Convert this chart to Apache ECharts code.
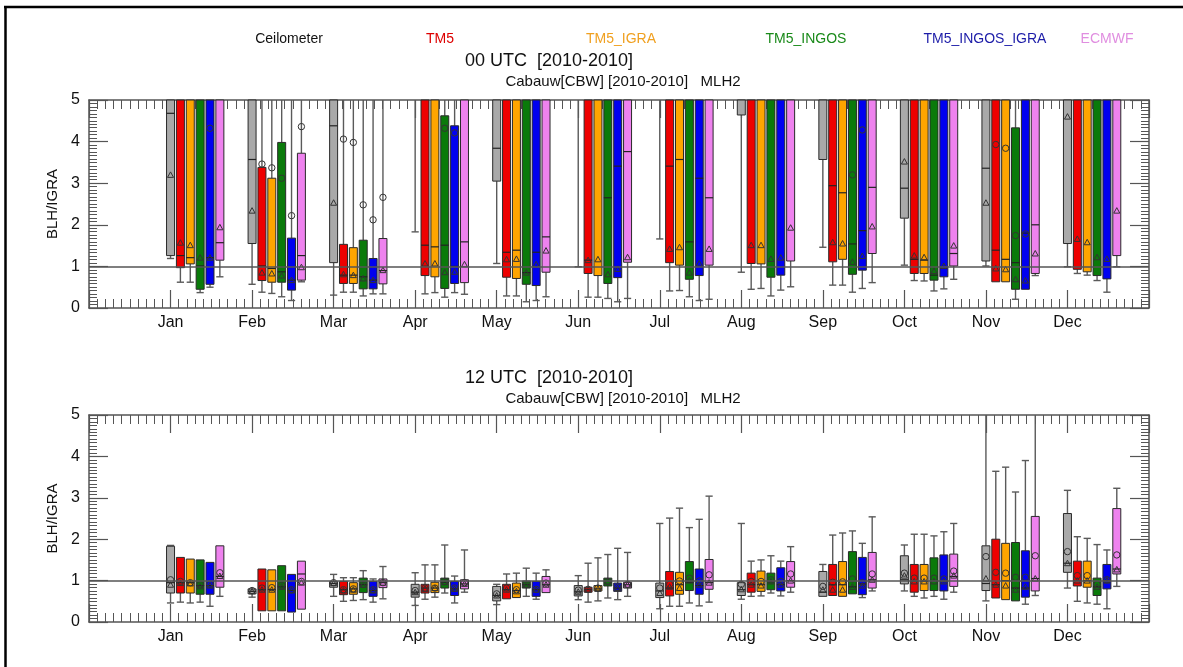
<!DOCTYPE html>
<html>
<head>
<meta charset="utf-8">
<script src="https://cdn.jsdelivr.net/npm/echarts/dist/echarts.min.js"></script>
<style>html,body{margin:0;padding:0;background:#fff}#c{width:1183px;height:667px}</style>
</head>
<body>
<div id="c"></div>
<script>
const months = ['Jan','Feb','Mar','Apr','May','Jun','Jul','Aug','Sep','Oct','Nov','Dec'];
const seriesNames = ['Ceilometer','TM5','TM5_IGRA','TM5_INGOS','TM5_INGOS_IGRA','ECMWF'];
const boxColors = ['#a9a9a9','#ee0000','#ffa500','#0a7a0a','#0000f0','#ee82ee'];
const legendColors = ['#111111','#dd0000','#f0a020','#1a8a1a','#1c1ca8','#e08ee0'];
const panelTitles = ['00 UTC  [2010-2010]','12 UTC  [2010-2010]'];
const subTitle = 'Cabauw[CBW] [2010-2010]   MLH2';
const yTicks = [0,1,2,3,4,5];
const refValue = 1;

// each row (one per month): [whiskerLow, q1, median, q3, whiskerHigh, mean(triangle), circle]
// values above 5 run off the top of the plot
const utc00_Ceilometer = [
 [1.19,1.26,4.68,6,6,3.2,null],[0.57,1.55,3.57,6,6,2.34,null],[0.31,1.09,4.38,6,6,2.53,null],
 [1.83,6,6,6,6,null,null],[1.07,3.05,3.84,6,6,null,null],[0.99,6,6,6,6,null,null],
 [1.66,6,6,6,6,null,null],[0.86,4.64,6,6,6,null,null],[1.46,3.57,6,6,6,null,null],
 [1.03,2.16,2.88,6,6,3.52,null],[1.01,1.13,3.36,6,6,2.53,null],[0.99,1.55,6,6,6,4.6,null]];
const utc00_TM5 = [
 [0.62,0.97,1.26,6,6,1.57,null],[0.38,0.66,1.01,3.38,6,0.85,3.46],[0.38,0.59,0.79,1.53,6,0.81,4.06],
 [0.34,0.78,1.51,6,6,1.07,null],[0.29,0.74,1.34,6,6,1.17,null],[0.26,0.83,1.15,6,6,1.15,null],
 [0.41,1.09,3.41,6,6,1.42,null],[0.45,1.07,6,6,6,1.51,null],[0.55,1.11,2.94,6,6,1.58,null],
 [0.66,0.83,1.17,6,6,1.26,null],[0.63,0.63,1.39,6,6,0.95,3.93],[0.83,0.93,6,6,6,1.66,null]];
const utc00_TM5_IGRA = [
 [0.62,1.06,1.21,6,6,1.51,null],[0.35,0.62,0.95,3.12,6,0.83,3.37],[0.38,0.59,0.79,1.45,6,0.79,3.98],
 [0.37,0.75,1.47,6,6,1.07,null],[0.29,0.71,1.39,6,6,1.18,null],[0.26,0.78,6,6,6,1.17,null],
 [0.42,1.03,3.57,6,6,1.46,null],[0.47,1.06,6,6,6,1.51,null],[0.55,1.17,2.77,6,6,1.55,null],
 [0.65,0.83,1.15,6,6,1.22,null],[0.63,0.63,1.17,6,6,0.93,3.84],[0.79,0.87,6,6,6,1.58,null]];
const utc00_TM5_INGOS = [
 [0.37,0.45,1.01,6,6,1.21,null],[0.27,0.62,0.87,3.98,6,0.78,3.12],[0.29,0.46,0.75,1.63,6,0.71,2.48],
 [0.26,0.47,1.51,4.62,6,0.86,4.32],[0.15,0.57,0.85,6,6,0.85,null],[0.23,0.59,2.65,6,6,0.81,null],
 [0.27,0.69,1.59,6,6,0.85,null],[0.29,0.74,6,6,6,1.18,null],[0.38,0.81,1.54,6,6,1.11,3.2],
 [0.41,0.67,0.79,6,6,0.89,null],[0.21,0.45,1.09,4.33,6,0.69,1.74],[0.66,0.78,6,6,6,1.22,null]];
const utc00_TM5_INGOS_IGRA = [
 [0.5,0.57,1.21,6,6,1.21,4.32],[0.18,0.43,0.67,1.68,6,0.67,2.22],[0.34,0.46,0.67,1.19,6,0.67,2.12],
 [0.37,0.59,1.0,4.38,6,0.87,4.21],[0.18,0.54,1.34,6,6,1.05,null],[0.15,0.73,3.41,6,6,0.94,null],
 [0.18,0.78,3.12,6,6,1.07,null],[0.43,0.79,6,6,6,1.21,null],[0.47,0.91,1.86,6,6,1.25,4.28],
 [0.46,0.75,6,6,6,1.01,null],[0.45,0.45,1.8,6,6,0.66,1.78],[0.38,0.7,6,6,6,1.18,null]];
const utc00_ECMWF = [
 [0.75,1.15,1.57,6,6,1.94,null],[0.63,0.67,1.26,3.72,6,0.98,4.36],[0.34,0.58,0.9,1.67,6,0.91,2.66],
 [0.33,0.61,1.59,6,6,1.05,null],[0.27,0.86,1.71,6,6,1.38,null],[0.23,1.1,3.76,6,6,1.22,null],
 [0.21,1.03,2.65,6,6,1.42,null],[0.51,1.13,6,6,6,1.93,null],[0.61,1.31,2.9,6,6,1.96,null],
 [0.69,1.01,1.31,6,6,1.5,null],[0.78,0.83,2.0,6,6,1.31,null],[0.99,1.26,6,6,6,2.34,null]];

const utc12_Ceilometer = [
 [0.46,0.7,0.95,1.83,1.85,0.9,1.02],[0.6,0.68,0.74,0.8,0.8,0.74,0.76],[0.62,0.84,0.93,0.98,1.15,0.94,0.95],
 [0.4,0.6,0.72,0.91,1.19,0.72,0.76],[0.42,0.51,0.64,0.86,0.91,0.64,0.68],[0.54,0.63,0.73,0.88,1.12,0.73,0.77],
 [0.32,0.59,0.75,0.94,2.38,0.7,0.82],[0.55,0.64,0.78,0.95,2.38,0.79,0.91],[0.62,0.62,0.72,1.22,1.39,0.78,0.86],
 [0.75,0.92,1.02,1.6,1.86,1.12,1.18],[0.51,0.76,0.93,1.84,6,1.05,1.58],[0.82,1.2,1.42,2.62,3.18,1.42,1.7]];
const utc12_TM5 = [
 [0.48,0.7,0.95,1.56,1.56,0.94,0.98],[0.27,0.27,0.78,1.28,1.28,0.78,0.82],[0.5,0.66,0.78,0.98,1.07,0.76,0.78],
 [0.55,0.7,0.82,0.91,1.38,0.8,0.82],[0.56,0.56,0.78,0.91,1.16,0.78,0.82],[0.48,0.72,0.78,0.84,1.42,0.78,0.79],
 [0.38,0.63,0.82,1.22,2.51,0.85,0.91],[0.62,0.72,0.9,1.18,1.47,0.9,0.98],[0.64,0.64,0.9,1.39,2.1,0.78,0.96],
 [0.62,0.72,0.98,1.39,2.12,0.98,1.06],[0.58,0.58,0.9,2.0,3.64,0.9,1.2],[0.5,0.87,1.0,1.47,2.06,1.0,1.12]];
const utc12_TM5_IGRA = [
 [0.46,0.7,0.95,1.52,1.52,0.93,0.95],[0.27,0.27,0.78,1.26,1.26,0.78,0.83],[0.52,0.67,0.8,0.95,1.07,0.78,0.8],
 [0.6,0.71,0.82,0.96,1.38,0.82,0.82],[0.59,0.59,0.76,0.94,1.18,0.74,0.78],[0.51,0.75,0.8,0.88,1.55,0.8,0.82],
 [0.38,0.67,0.9,1.2,2.75,0.82,0.99],[0.63,0.74,0.9,1.23,1.5,0.88,0.98],[0.62,0.62,0.9,1.46,2.15,0.78,0.97],
 [0.58,0.76,0.98,1.39,2.12,0.98,1.06],[0.54,0.54,1.0,1.9,3.74,0.88,1.18],[0.46,0.84,1.0,1.47,2.02,1.0,1.12]];
const utc12_TM5_INGOS = [
 [0.48,0.67,0.88,1.5,1.5,0.86,0.9],[0.27,0.27,0.85,1.36,1.36,0.85,0.88],[0.54,0.71,0.9,1.06,1.24,0.9,0.91],
 [0.7,0.82,0.96,1.06,1.86,0.96,0.98],[0.62,0.82,0.9,0.99,1.3,0.9,0.91],[0.58,0.87,0.98,1.06,1.63,0.98,0.98],
 [0.46,0.76,0.96,1.46,2.28,1.0,1.06],[0.7,0.78,0.98,1.18,1.6,0.98,1.02],[0.68,0.68,0.85,1.7,2.2,0.85,1.04],
 [0.62,0.76,0.98,1.55,2.08,0.98,1.06],[0.51,0.51,0.82,1.92,3.14,0.78,1.08],[0.43,0.64,0.85,1.06,1.87,0.85,0.91]];
const utc12_TM5_INGOS_IGRA = [
 [0.38,0.67,0.88,1.44,1.44,0.88,0.91],[0.24,0.24,0.76,1.15,1.15,0.76,0.78],[0.48,0.62,0.76,0.98,1.04,0.76,0.78],
 [0.46,0.64,0.8,0.98,1.11,0.8,0.82],[0.55,0.62,0.78,0.98,1.18,0.78,0.79],[0.54,0.74,0.82,0.94,1.78,0.82,0.84],
 [0.39,0.67,0.88,1.28,2.48,0.9,0.99],[0.63,0.75,0.9,1.31,1.47,0.9,0.98],[0.59,0.66,0.92,1.56,1.9,0.88,0.95],
 [0.55,0.75,0.98,1.62,2.18,0.98,1.04],[0.43,0.6,0.82,1.72,3.9,0.85,1.08],[0.32,0.8,1.0,1.39,1.74,1.0,1.02]];
const utc12_ECMWF = [
 [0.62,0.84,1.1,1.84,1.84,1.11,1.19],[0.31,0.31,1.16,1.47,1.47,0.95,0.98],[0.56,0.83,0.95,1.04,1.34,0.95,0.95],
 [0.72,0.8,0.92,1.02,1.74,0.92,0.95],[0.71,0.71,0.9,1.1,1.26,0.9,0.94],[0.62,0.82,0.9,0.96,1.68,0.9,0.91],
 [0.48,0.79,0.95,1.51,3.04,0.95,1.14],[0.72,0.84,1.0,1.46,1.82,1.0,1.16],[0.75,0.82,1.02,1.68,2.54,1.02,1.16],
 [0.72,0.86,1.1,1.64,2.38,1.12,1.23],[0.64,0.75,1.05,2.55,6,1.05,1.6],[0.86,1.16,1.28,2.74,3.23,1.27,1.62]];

const panels = [
  [utc00_Ceilometer, utc00_TM5, utc00_TM5_IGRA, utc00_TM5_INGOS, utc00_TM5_INGOS_IGRA, utc00_ECMWF],
  [utc12_Ceilometer, utc12_TM5, utc12_TM5_IGRA, utc12_TM5_INGOS, utc12_TM5_INGOS_IGRA, utc12_ECMWF]
];

const FONT = "'Liberation Sans', Arial, Helvetica, sans-serif";
const AX = '#555555';
const STEP = 0.121;   // horizontal offset between models inside a month (in months)
const BOXW = 0.098;   // box width (in months)
const YMAX = 5;

function xAxisCfg(gridIndex, position, showLabels) {
  return {
    type: 'value', gridIndex: gridIndex, position: position, min: 0, max: 13, interval: 1,
    axisLine: {show: true, onZero: false, lineStyle: {color: AX, width: 1.5}},
    axisTick: {show: true, inside: true, length: 18, lineStyle: {color: AX, width: 1.2}},
    minorTick: {show: true, splitNumber: 10, length: 9, lineStyle: {color: AX, width: 1}},
    axisLabel: {show: showLabels, color: '#111', fontSize: 16, fontFamily: FONT, margin: 7,
      formatter: function (v) { return (v >= 1 && v <= 12 && Math.round(v) === v) ? months[v - 1] : ''; }},
    splitLine: {show: false}, minorSplitLine: {show: false}
  };
}
function yAxisCfg(gridIndex, position, showLabels) {
  const c = {
    type: 'value', gridIndex: gridIndex, position: position, min: yTicks[0], max: yTicks[yTicks.length - 1], interval: 1,
    axisLine: {show: true, onZero: false, lineStyle: {color: AX, width: 1.5}},
    axisTick: {show: true, inside: true, length: 19, lineStyle: {color: AX, width: 1.2}},
    minorTick: {show: true, splitNumber: 12, length: 8, lineStyle: {color: AX, width: 1}},
    axisLabel: {show: showLabels, color: '#111', fontSize: 16, fontFamily: FONT, margin: 9},
    splitLine: {show: false}, minorSplitLine: {show: false}
  };
  if (showLabels) {
    c.name = 'BLH/IGRA'; c.nameLocation = 'middle'; c.nameGap = 29;
    c.nameTextStyle = {color: '#111', fontSize: 15, fontFamily: FONT};
  }
  return c;
}

function makeRender(stats, color) {
  return function (params, api) {
    const d = stats[params.dataIndex];
    const xv = api.value(0);
    const Y = function (v) { return api.coord([xv, Math.min(v, YMAX)])[1]; };
    const px = api.coord([xv, 0])[0];
    const hw = api.size([BOXW, 0])[0] / 2;
    const capW = hw * 0.9;
    const lo = d[0], q1 = d[1], med = d[2], q3 = d[3], hi = d[4], mean = d[5], circ = d[6];
    const ws = {stroke: '#5a5a5a', lineWidth: 1.4};
    const ch = [];
    if (lo < q1 && lo < YMAX) {
      ch.push({type: 'line', shape: {x1: px, y1: Y(lo), x2: px, y2: Y(q1)}, style: ws});
      ch.push({type: 'line', shape: {x1: px - capW, y1: Y(lo), x2: px + capW, y2: Y(lo)}, style: ws});
    }
    if (hi > q3 && q3 < YMAX) {
      ch.push({type: 'line', shape: {x1: px, y1: Y(q3), x2: px, y2: Y(hi)}, style: ws});
      if (hi <= YMAX) ch.push({type: 'line', shape: {x1: px - capW, y1: Y(hi), x2: px + capW, y2: Y(hi)}, style: ws});
    }
    if (q1 < YMAX) {
      const yt = Y(q3), yb = Y(q1);
      ch.push({type: 'rect', shape: {x: px - hw, y: yt, width: 2 * hw, height: yb - yt},
        style: {fill: color, stroke: '#2a2a2a', lineWidth: 1}});
    }
    if (med != null && med < YMAX && q1 < YMAX) {
      ch.push({type: 'line', shape: {x1: px - hw, y1: Y(med), x2: px + hw, y2: Y(med)},
        style: {stroke: '#222', lineWidth: 1.2}});
    }
    if (mean != null && mean < YMAX) {
      const ty = Y(mean);
      ch.push({type: 'polygon', shape: {points: [[px - 3, ty + 2.5], [px + 3, ty + 2.5], [px, ty - 3]]},
        style: {fill: 'none', stroke: '#333', lineWidth: 1}});
    }
    if (circ != null && circ < YMAX) {
      ch.push({type: 'circle', shape: {cx: px, cy: Y(circ), r: 3.2},
        style: {fill: 'none', stroke: '#333', lineWidth: 1}});
    }
    return {type: 'group', children: ch};
  };
}

const grids = [
  {left: 89, top: 100, width: 1060, height: 208},
  {left: 89, top: 415, width: 1060, height: 207}
];
const xAxes = [xAxisCfg(0, 'bottom', true), xAxisCfg(0, 'top', false), xAxisCfg(1, 'bottom', true), xAxisCfg(1, 'top', false)];
const yAxes = [yAxisCfg(0, 'left', true), yAxisCfg(0, 'right', false), yAxisCfg(1, 'left', true), yAxisCfg(1, 'right', false)];

const series = [];
panels.forEach(function (models, p) {
  models.forEach(function (stats, k) {
    const s = {
      type: 'custom', name: seriesNames[k], xAxisIndex: p * 2, yAxisIndex: p * 2,
      renderItem: makeRender(stats, boxColors[k]),
      encode: {x: 0, y: 1},
      data: stats.map(function (row, m) { return [m + 1 + k * STEP, row[1]]; }),
      z: 2
    };
    if (k === 0) {
      s.markLine = {silent: true, symbol: ['none', 'none'], label: {show: false},
        lineStyle: {color: '#555', width: 1.5, type: 'solid'}, data: [{yAxis: refValue}], z: 5};
    }
    series.push(s);
  });
});

const legendX = [289, 440, 621, 806, 985, 1107];
const graphics = [
  {type: 'line', shape: {x1: 5.5, y1: 6, x2: 5.5, y2: 667}, style: {stroke: '#000', lineWidth: 2.5}},
  {type: 'line', shape: {x1: 4, y1: 7, x2: 1183, y2: 7}, style: {stroke: '#000', lineWidth: 2.5}}
];
seriesNames.forEach(function (n, k) {
  graphics.push({type: 'text', x: legendX[k], y: 39,
    style: {text: n, fill: legendColors[k], font: '14px ' + FONT, textAlign: 'center', textVerticalAlign: 'middle'}});
});
const titleY = [[61, 82], [378, 399]];
panelTitles.forEach(function (t, p) {
  graphics.push({type: 'text', x: 549, y: titleY[p][0],
    style: {text: t, fill: '#111', font: '18px ' + FONT, textAlign: 'center', textVerticalAlign: 'middle'}});
  graphics.push({type: 'text', x: 623, y: titleY[p][1],
    style: {text: subTitle, fill: '#111', font: '15px ' + FONT, textAlign: 'center', textVerticalAlign: 'middle'}});
});

const chart = echarts.init(document.getElementById('c'), null, {renderer: 'canvas'});
chart.setOption({
  animation: false,
  backgroundColor: '#fff',
  grid: grids,
  xAxis: xAxes,
  yAxis: yAxes,
  series: series,
  graphic: graphics
});
</script>
</body>
</html>
